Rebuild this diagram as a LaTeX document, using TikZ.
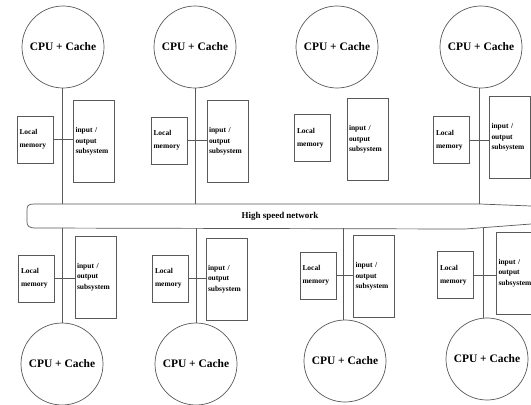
\documentclass[tikz,border=0pt]{standalone}
\usepackage{fontspec}
\setmainfont{Liberation Serif}
\begin{document}
\begin{tikzpicture}[x=1bp,y=-1bp,
  ln/.style={draw=black!65, line width=0.7bp},
  cpu/.style={circle, ln, minimum size=82bp, inner sep=0pt, font=\bfseries\fontsize{11.5}{13}\selectfont},
  mem/.style={rectangle, ln, minimum width=36bp, minimum height=47bp, text width=31bp, inner xsep=2.5bp, inner ysep=0pt, align=left, font=\bfseries\fontsize{7.5}{13}\selectfont},
  io/.style={rectangle, ln, minimum width=41bp, minimum height=82bp, text width=37bp, inner xsep=2bp, inner ysep=0pt, align=left, font=\bfseries\fontsize{7.5}{10.5}\selectfont},
  netlabel/.style={inner sep=0pt, font=\bfseries\fontsize{9}{10}\selectfont}
]
\clip (0,0) rectangle (531,404);
\fill[white] (0,0) rectangle (531,404);

% network
\coordinate (nt) at (0,204);
\coordinate (nb) at (0,228);
\draw[ln, fill=white] (531,206) -- (480,204) -- (34,204) .. controls (28,204) and (27,206) .. (27,210) -- (27,222) .. controls (27,226) and (29,228) .. (36,228) -- (465,229) -- (531,224);
\node[netlabel] (net) at (280,216) {High speed network};

% top row
\node[cpu] (c1) at (63,47) {CPU + Cache};
\node[cpu] (c2) at (195,47) {CPU + Cache};
\node[cpu] (c3) at (337,47) {CPU + Cache};
\node[cpu] (c4) at (481,47) {CPU + Cache};

\node[mem] (m1) at (35,139.5) {Local\\memory};
\node[io] (i1) at (94,141.5) {input /\\output\\subsystem};
\node[mem] (m2) at (169,140.5) {Local\\memory};
\node[io] (i2) at (227.5,141.5) {input /\\output\\subsystem};
\node[mem] (m3) at (312.5,138) {Local\\memory};
\node[io] (i3) at (367.5,139.5) {input /\\output\\subsystem};
\node[mem] (m4) at (451.5,140) {Local\\memory};
\node[io] (i4) at (510,137.5) {input /\\output\\subsystem};

\draw[ln] ([xshift=-1bp]c1.south) -- ([xshift=-1bp]c1.south |- nt);
\draw[ln] (c2.south) -- (c2.south |- nt);
\draw[ln] ([xshift=-2bp]c4.south) -- ([xshift=-2bp]c4.south |- nt);
\draw[ln] (m1.east) -- (m1.east -| i1.west);
\draw[ln] (m2.east) -- (m2.east -| i2.west);
\draw[ln] (m4.east) -- (m4.east -| i4.west);

% bottom row
\node[cpu] (b1) at (62,364) {CPU + Cache};
\node[cpu] (b2) at (196,364) {CPU + Cache};
\node[cpu] (b3) at (345,361) {CPU + Cache};
\node[cpu] (b4) at (487,359) {CPU + Cache};

\node[mem] (n1) at (36.5,278.5) {Local\\memory};
\node[io] (j1) at (95.5,277) {input /\\output\\subsystem};
\node[mem] (n2) at (170.5,278.5) {Local\\memory};
\node[io] (j2) at (226.5,279) {input /\\output\\subsystem};
\node[mem] (n3) at (318,275.5) {Local\\memory};
\node[io] (j3) at (374,276.5) {input /\\output\\subsystem};
\node[mem] (n4) at (455.5,275) {Local\\memory};
\node[io] (j4) at (517,273) {input /\\output\\subsystem};

\draw[ln] (b1.north) -- (b1.north |- nb);
\draw[ln] (b2.north) -- (b2.north |- nb);
\draw[ln] ([xshift=-2bp]b3.north) -- ([xshift=-2bp]b3.north |- nb);
\draw[ln] ([xshift=-4bp]b4.north) -- ([xshift=-4bp]b4.north |- nb);
\draw[ln] (n1.east) -- (n1.east -| j1.west);
\draw[ln] (n2.east) -- (n2.east -| j2.west);
\draw[ln] (n3.east) -- (n3.east -| j3.west);
\draw[ln] (n4.east) -- (n4.east -| j4.west);
\end{tikzpicture}
\end{document}
